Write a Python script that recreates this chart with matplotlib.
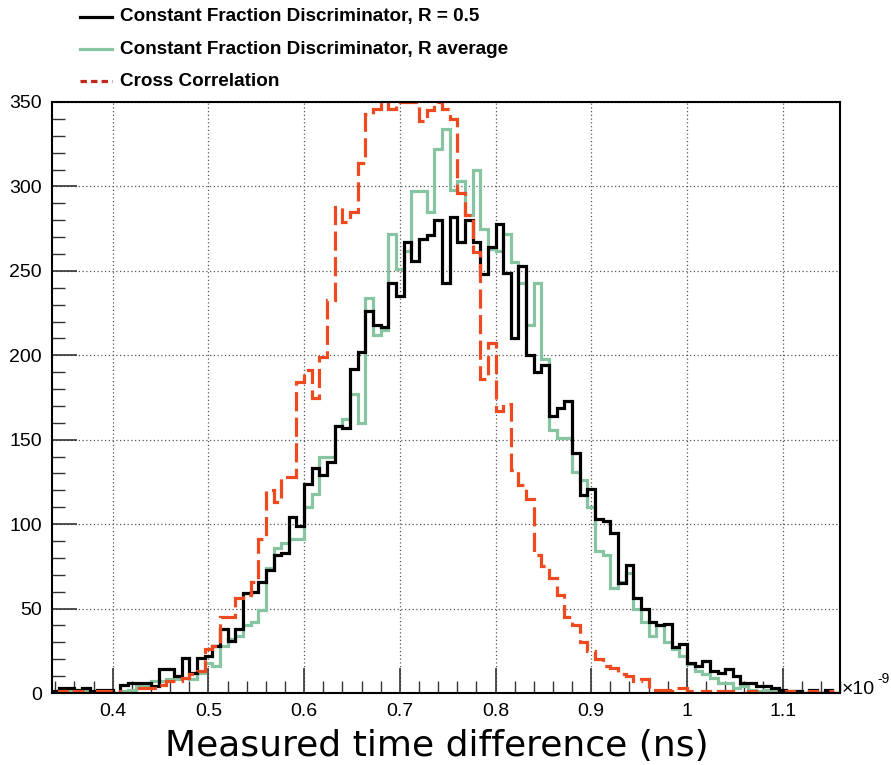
import numpy as np
import matplotlib
matplotlib.use("Agg")
import matplotlib.pyplot as plt
from matplotlib import font_manager
from matplotlib.lines import Line2D
from matplotlib.ticker import MultipleLocator, FuncFormatter

# histogram binning (units of 1e-9 s)
BIN_LO, BIN_HI, N_BINS = 0.336, 1.16, 103

cfd_r05 = [1, 3, 3, 2, 3, 1, 2, 2, 0, 5, 6, 6, 6, 4, 14, 14, 10, 21, 12, 21,
           22, 28, 38, 31, 38, 59, 60, 66, 73, 82, 83, 104, 99, 124, 133, 129, 137, 158, 157, 192,
           202, 226, 218, 217, 243, 235, 267, 256, 269, 271, 280, 243, 282, 267, 280, 267, 248, 264, 278, 249,
           210, 253, 200, 190, 194, 164, 169, 173, 142, 117, 121, 103, 102, 95, 65, 76, 56, 50, 42, 40,
           41, 27, 29, 18, 16, 19, 13, 12, 14, 10, 6, 6, 4, 4, 3, 2, 1, 1, 0, 2,
           0, 2, 0]

cfd_ravg = [0, 1, 1, 0, 1, 0, 1, 1, 0, 1, 2, 4, 4, 7, 7, 8, 8, 9, 8, 12,
            18, 16, 28, 32, 34, 40, 42, 49, 74, 86, 89, 91, 91, 110, 118, 140, 140, 158, 162, 177,
            160, 234, 212, 215, 272, 251, 262, 297, 297, 285, 322, 334, 298, 303, 283, 310, 275, 263, 262, 272,
            255, 243, 218, 243, 198, 156, 151, 151, 131, 126, 110, 84, 82, 62, 66, 71, 50, 42, 34, 40,
            30, 26, 22, 17, 13, 11, 9, 6, 6, 3, 4, 2, 1, 2, 1, 1, 0, 1, 0, 1,
            0, 1, 0]

cross_corr = [0, 1, 0, 1, 0, 0, 1, 1, 1, 0, 0, 3, 3, 3, 5, 7, 7, 9, 11, 13,
              26, 28, 45, 45, 56, 58, 66, 91, 120, 113, 128, 128, 184, 191, 175, 199, 233, 288, 279, 285,
              314, 343, 346, 360, 346, 360, 360, 360, 339, 345, 360, 346, 340, 296, 283, 261, 186, 207, 167, 171,
              132, 123, 115, 82, 75, 68, 58, 45, 40, 30, 25, 20, 16, 15, 11, 10, 7, 8, 2, 2,
              2, 3, 3, 1, 0, 1, 0, 1, 1, 0, 0, 1, 1, 0, 0, 0, 1, 0, 0, 1,
              0, 1, 0]

series_labels = ["Constant Fraction Discriminator, R = 0.5",
                 "Constant Fraction Discriminator, R average",
                 "Cross Correlation"]

BLACK = "#000000"
GREEN = "#86c4a2"
RED = "#ef4a1f"
RED_LEG = "#c0281c"

available = {f.name for f in font_manager.fontManager.ttflist}
if "Liberation Sans Narrow" in available:
    ROOT_FONT = ["Liberation Sans Narrow", "DejaVu Sans"]
    TICK_FS, LEG_FS = 15.5, 16.5
else:
    ROOT_FONT = ["Liberation Sans", "DejaVu Sans"]
    TICK_FS, LEG_FS = 14, 13.6

W, H = 891, 765
fig = plt.figure(figsize=(W / 100, H / 100), dpi=100)
ax = fig.add_axes([51.5 / W, (H - 693) / H, (840 - 51.5) / W, (693 - 102) / H])

edges = np.linspace(BIN_LO, BIN_HI, N_BINS + 1)
ymax = 350

ax.stairs(cfd_ravg, edges, color=GREEN, lw=2.3, zorder=3)
ax.stairs(cfd_r05, edges, color=BLACK, lw=2.3, zorder=4)
ax.stairs(np.minimum(cross_corr, ymax), edges, color=RED, lw=2.3,
          linestyle=(0, (6, 2)), zorder=5)

ax.set_xlim(BIN_LO, BIN_HI)
ax.set_ylim(0, ymax)

ax.xaxis.set_major_locator(MultipleLocator(0.1))
ax.xaxis.set_minor_locator(MultipleLocator(0.02))
ax.yaxis.set_major_locator(MultipleLocator(50))
ax.yaxis.set_minor_locator(MultipleLocator(10))
ax.xaxis.set_major_formatter(FuncFormatter(lambda v, p: f"{v:g}"))
ax.yaxis.set_major_formatter(FuncFormatter(lambda v, p: f"{v:g}"))

ax.tick_params(which="both", direction="in", top=False, right=False, colors="#333333",
               labelcolor="black")
ax.tick_params(axis="y", which="major", length=18, width=1.2, pad=7)
ax.tick_params(axis="y", which="minor", length=9, width=1.0)
ax.tick_params(axis="x", which="major", length=18, width=1.2, pad=7)
ax.tick_params(axis="x", which="minor", length=9, width=1.0)
for lab in ax.get_xticklabels() + ax.get_yticklabels():
    lab.set_family(ROOT_FONT)
    lab.set_fontsize(TICK_FS)

ax.grid(True, which="major", color="#555555", linestyle=(0, (1, 2)), lw=0.9)
ax.set_axisbelow(True)
for s in ax.spines.values():
    s.set_linewidth(1.5)
    s.set_zorder(6)

# exponent at the end of the x axis
fig.text(842 / W, 1 - 689 / H, "\u00d710", family=ROOT_FONT, fontsize=TICK_FS,
         ha="left", va="center")
fig.text(877 / W, 1 - 679 / H, "-9", family=ROOT_FONT, fontsize=TICK_FS - 4,
         ha="left", va="center")

fig.text(437 / W, 1 - 746 / H, "Measured time difference (ns)", family="DejaVu Sans",
         fontsize=26, ha="center", va="center")

# legend in the top-left margin
leg_colors = [BLACK, GREEN, RED_LEG]
leg_styles = ["-", "-", (0, (2, 1.3))]
leg_y = [17, 49, 81]
for lab, c, ls, yp in zip(series_labels, leg_colors, leg_styles, leg_y):
    y = 1 - yp / H
    fig.add_artist(Line2D([80 / W, 112 / W], [y, y], color=c, lw=2.3, linestyle=ls,
                          transform=fig.transFigure))
    fig.text(120 / W, y, lab, family=ROOT_FONT, fontsize=LEG_FS, fontweight="bold",
             ha="left", va="center")

fig.savefig("out.png", dpi=100)
